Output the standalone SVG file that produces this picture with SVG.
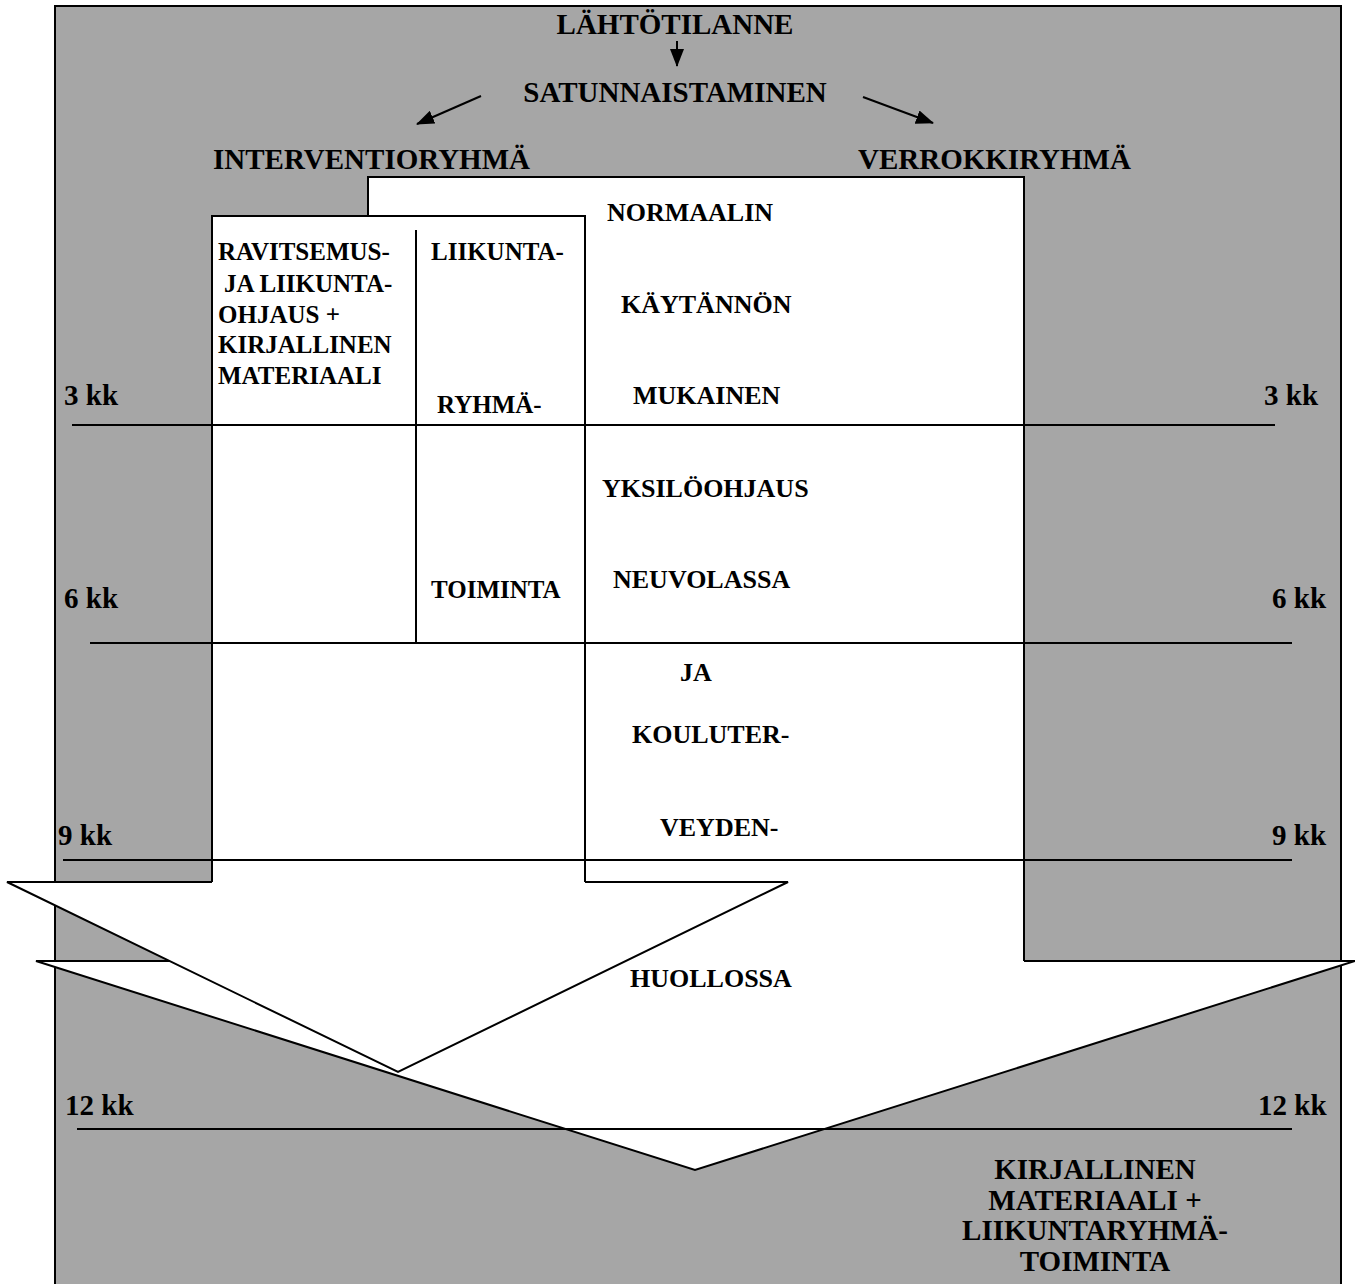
<svg xmlns="http://www.w3.org/2000/svg" width="1355" height="1284" viewBox="0 0 1355 1284">
<defs>
<style>
text{font-family:"Liberation Serif","Times New Roman",serif;font-weight:bold;fill:#000}
.h{font-size:29px}
.b{font-size:25px}
.c{font-size:26px}
.k{font-size:29px}
.ln{stroke:#000;stroke-width:2;fill:none}
.wf{fill:#fff;stroke:none}
.ws{fill:#fff;stroke:#000;stroke-width:2;stroke-linejoin:miter}
</style>
<marker id="ah" markerUnits="userSpaceOnUse" markerWidth="18" markerHeight="14" refX="17" refY="7" orient="auto">
<path d="M0,0 L18,7 L0,14 Z" fill="#000"/>
</marker>
</defs>
<rect x="0" y="0" width="1355" height="1284" fill="#fff"/>
<g id="background">
<rect x="55" y="6" width="1286" height="1290" fill="#a6a6a6" stroke="#000" stroke-width="2"/>
</g>
<g id="arrow-lower">
<polygon class="ws" points="36,961 1355,961 695,1170"/>
</g>
<g id="control-box">
<rect class="wf" x="368" y="177" width="656" height="786"/>
<path class="ln" d="M368,961 V177 H1024 V961"/>
</g>
<g id="arrow-upper">
<polygon class="ws" points="7,882 788,882 398,1072"/>
</g>
<g id="intervention-box">
<rect class="wf" x="212" y="216" width="373" height="668"/>
<path class="ln" d="M212,882 V216 H585 V882"/>
<line class="ln" x1="416" y1="230" x2="416" y2="643"/>
</g>
<g id="connectors">
<line class="ln" x1="677" y1="41" x2="677" y2="66" marker-end="url(#ah)"/>
<line class="ln" x1="481" y1="96" x2="417" y2="124" marker-end="url(#ah)"/>
<line class="ln" x1="863" y1="97" x2="933" y2="123" marker-end="url(#ah)"/>
</g>
<g id="timelines">
<line class="ln" x1="72" y1="425" x2="1275" y2="425"/>
<line class="ln" x1="90" y1="643" x2="1292" y2="643"/>
<line class="ln" x1="63" y1="860" x2="1292" y2="860"/>
<line class="ln" x1="77" y1="1129" x2="1292" y2="1129"/>
</g>
<g id="headings">
<text class="h" x="675" y="34" text-anchor="middle">LÄHTÖTILANNE</text>
<text class="h" x="675" y="102" text-anchor="middle">SATUNNAISTAMINEN</text>
<text class="h" x="213" y="169">INTERVENTIORYHMÄ</text>
<text class="h" x="858" y="169">VERROKKIRYHMÄ</text>
</g>
<g id="intervention-text">
<text class="b" x="218" y="260">RAVITSEMUS-</text>
<text class="b" x="224" y="292">JA LIIKUNTA-</text>
<text class="b" x="218" y="323">OHJAUS +</text>
<text class="b" x="218" y="353">KIRJALLINEN</text>
<text class="b" x="218" y="384">MATERIAALI</text>
<text class="b" x="431" y="260">LIIKUNTA-</text>
<text class="b" x="437" y="413">RYHMÄ-</text>
<text class="b" x="431" y="598">TOIMINTA</text>
</g>
<g id="control-text">
<text class="c" x="607" y="221">NORMAALIN</text>
<text class="c" x="621" y="313">KÄYTÄNNÖN</text>
<text class="c" x="633" y="404">MUKAINEN</text>
<text class="c" x="602" y="497">YKSILÖOHJAUS</text>
<text class="c" x="613" y="588">NEUVOLASSA</text>
<text class="c" x="680" y="681">JA</text>
<text class="c" x="632" y="743">KOULUTER-</text>
<text class="c" x="660" y="836">VEYDEN-</text>
<text class="c" x="630" y="987">HUOLLOSSA</text>
</g>
<g id="time-labels">
<text class="k" x="64" y="405">3 kk</text>
<text class="k" x="1264" y="405">3 kk</text>
<text class="k" x="64" y="608">6 kk</text>
<text class="k" x="1272" y="608">6 kk</text>
<text class="k" x="58" y="845">9 kk</text>
<text class="k" x="1272" y="845">9 kk</text>
<text class="k" x="65" y="1115">12 kk</text>
<text class="k" x="1258" y="1115">12 kk</text>
</g>
<g id="final-text">
<text class="h" x="1095" y="1179" text-anchor="middle">KIRJALLINEN</text>
<text class="h" x="1095" y="1210" text-anchor="middle">MATERIAALI +</text>
<text class="h" x="1095" y="1240" text-anchor="middle">LIIKUNTARYHMÄ-</text>
<text class="h" x="1095" y="1271" text-anchor="middle">TOIMINTA</text>
</g>
</svg>
